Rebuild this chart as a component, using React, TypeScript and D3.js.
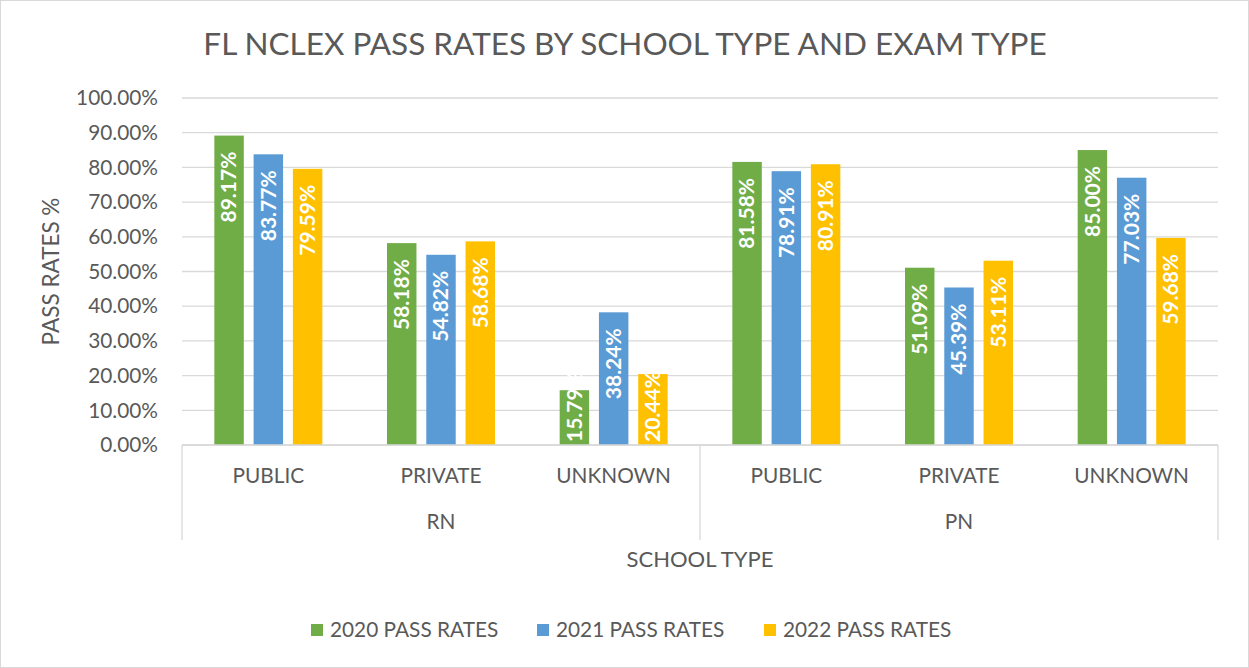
import React from 'react'
import * as d3 from 'd3'

const schoolTypes = ['PUBLIC', 'PRIVATE', 'UNKNOWN', 'PUBLIC', 'PRIVATE', 'UNKNOWN']
const examTypes = ['RN', 'PN']
const seriesNames = ['2020 PASS RATES', '2021 PASS RATES', '2022 PASS RATES']
const rates2020 = [89.17, 58.18, 15.79, 81.58, 51.09, 85.0]
const rates2021 = [83.77, 54.82, 38.24, 78.91, 45.39, 77.03]
const rates2022 = [79.59, 58.68, 20.44, 80.91, 53.11, 59.68]
const yTicks = [0, 10, 20, 30, 40, 50, 60, 70, 80, 90, 100]

const colors = ['#70AD47', '#5B9BD5', '#FFC000']
const font = 'Lato, "Open Sans", sans-serif'
const textColor = '#595959'

const App = () => {
  const width = 1249
  const height = 668
  const plot = { left: 182, right: 1218, top: 98, bottom: 445 }

  const series = [rates2020, rates2021, rates2022]
  const idx = schoolTypes.map((_, i) => i)

  const x0 = d3.scaleBand().domain(idx.map(String)).range([plot.left, plot.right])
  const x1 = d3.scaleBand().domain(['0', '1', '2']).range([0, 108]).paddingInner(0.25)
  const y = d3.scaleLinear().domain([0, 100]).range([plot.bottom, plot.top])
  const groupW = 108
  const fmt = (v: number) => d3.format('.2f')(v) + '%'

  const legendX = [311, 537, 764]

  return (
    <div style={{ position: 'absolute', left: 0, top: 0 }}>
      <svg width={width} height={height} style={{ display: 'block', fontFamily: font }}>
        <rect x={0.5} y={0.5} width={width - 1} height={height - 1} fill='#fff' stroke='#D9D9D9' />
        <text x={625} y={55} textAnchor='middle' fontSize={31.5} fill={textColor}>
          FL NCLEX PASS RATES BY SCHOOL TYPE AND EXAM TYPE
        </text>

        {/* grid + y labels */}
        {yTicks.map(t => (
          <g key={t}>
            <line x1={plot.left} x2={plot.right} y1={y(t)} y2={y(t)} stroke='#D9D9D9' strokeWidth={1.3} />
            <text x={158} y={y(t)} dy='0.35em' textAnchor='end' fontSize={20.8} fill={textColor}>
              {fmt(t)}
            </text>
          </g>
        ))}
        <text transform={`translate(59,${(plot.top + plot.bottom) / 2}) rotate(-90)`} textAnchor='middle'
          fontSize={22.5} fill={textColor}>PASS RATES %</text>

        {/* bars */}
        {series.map((vals, s) => (
          <g key={s}>
            {vals.map((v, i) => {
              const bx = x0(String(i))! + (x0.bandwidth() - groupW) / 2 + x1(String(s))!
              const bw = x1.bandwidth()
              const h = plot.bottom - y(v)
              const fits = h > 90
              return (
                <g key={i}>
                  <rect x={bx} y={y(v)} width={bw} height={h} fill={colors[s]} />
                  <text
                    transform={fits
                      ? `translate(${bx + bw / 2},${y(v) + 16}) rotate(-90)`
                      : `translate(${bx + bw / 2},${plot.bottom - 3}) rotate(-90)`}
                    textAnchor={fits ? 'end' : 'start'}
                    dy='0.35em' fontSize={21} fontWeight='bold' fill='#fff'>
                    {fmt(v)}
                  </text>
                </g>
              )
            })}
          </g>
        ))}

        {/* category axis */}
        <line x1={plot.left} x2={plot.right} y1={plot.bottom} y2={plot.bottom} stroke='#D9D9D9' strokeWidth={1.3} />
        {[0, 3, 6].map(i => {
          const xx = i < 6 ? x0(String(i))! : plot.right
          return <line key={i} x1={xx} x2={xx} y1={plot.bottom} y2={540} stroke='#D9D9D9' strokeWidth={1.3} />
        })}
        {schoolTypes.map((c, i) => (
          <text key={i} x={x0(String(i))! + x0.bandwidth() / 2} y={483} textAnchor='middle' fontSize={20.8} fill={textColor}>
            {c}
          </text>
        ))}
        {examTypes.map((e, g) => (
          <text key={e} x={x0(String(g * 3 + 1))! + x0.bandwidth() / 2} y={529} textAnchor='middle' fontSize={20.8} fill={textColor}>
            {e}
          </text>
        ))}
        <text x={700} y={567} textAnchor='middle' fontSize={22} fill={textColor}>SCHOOL TYPE</text>

        {/* legend */}
        {seriesNames.map((n, s) => (
          <g key={n} transform={`translate(${legendX[s]},630)`}>
            <rect x={0} y={-6} width={12} height={12} fill={colors[s]} />
            <text x={19} y={0} dy='0.35em' fontSize={20.8} fill={textColor}>{n}</text>
          </g>
        ))}
      </svg>
    </div>
  )
}

export default App
